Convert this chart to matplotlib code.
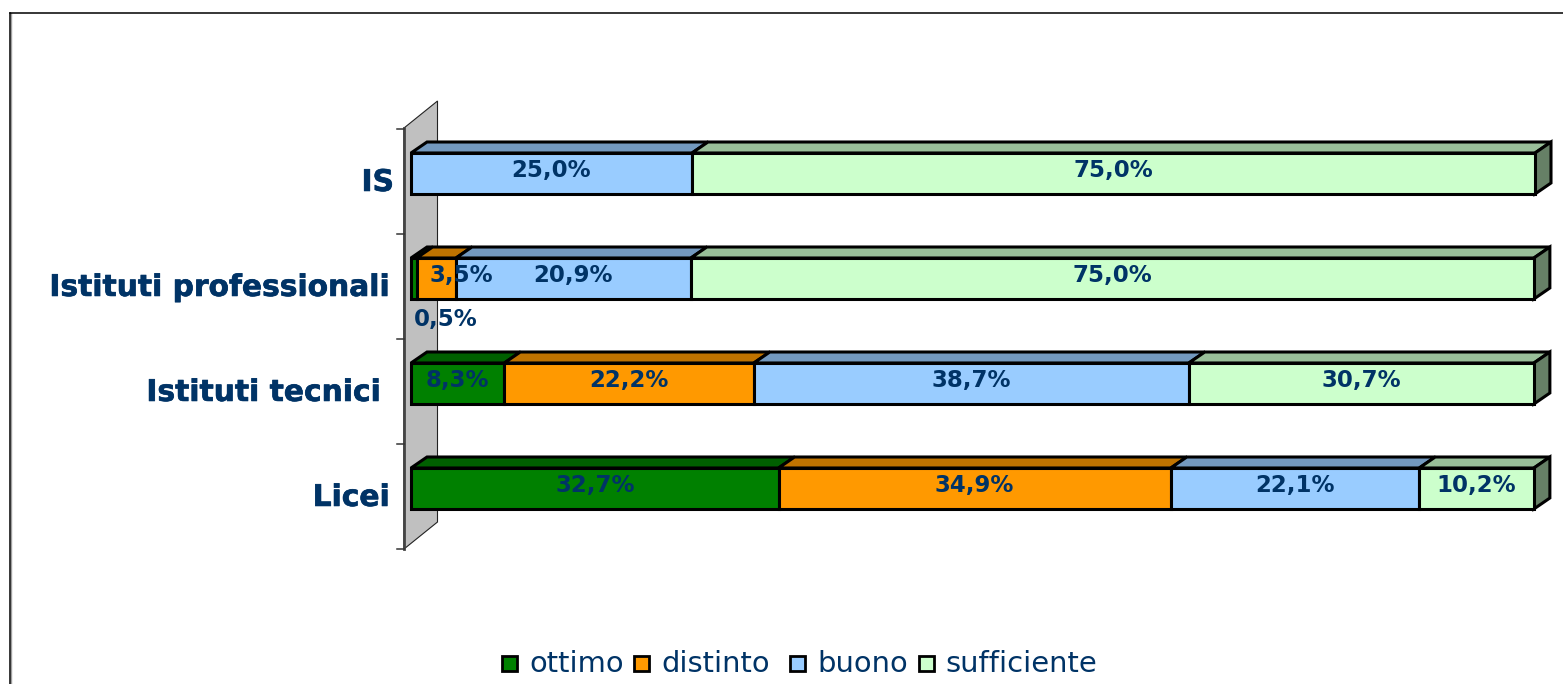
import matplotlib
matplotlib.use('Agg')
import matplotlib.pyplot as plt
import matplotlib.patheffects as pe
from matplotlib.lines import Line2D
from matplotlib.patches import Polygon, Rectangle

W, H = 1563, 684
plt.rcParams['font.family'] = ['DejaVu Sans']

categorie = ['Licei', 'Istituti tecnici', 'Istituti professionali', 'IS']
serie = ['ottimo', 'distinto', 'buono', 'sufficiente']
ottimo = [32.7, 8.3, 0.5, 0.0]
distinto = [34.9, 22.2, 3.5, 0.0]
buono = [22.1, 38.7, 20.9, 25.0]
sufficiente = [10.2, 30.7, 75.0, 75.0]
valori = [ottimo, distinto, buono, sufficiente]

colori = ['#008000', '#FF9900', '#99CCFF', '#CCFFCC']
colori_top = ['#006000', '#BF7300', '#7399BF', '#99BF99']
colori_lato = ['#004000', '#804D00', '#4D6680', '#668066']
blu = '#003366'

# scala: 0-100% -> 411-1535 px, una categoria = 105 px
PX_X = 11.24
PX_Y = 105.0
X0, Y0 = 411.0, 488.5
DX = 16 / PX_X
DY = 11 / PX_Y
ALT = 20.5 / PX_Y


def px_x(px):
    return (px - X0) / PX_X


def px_y(py):
    return (Y0 - py) / PX_Y


fig = plt.figure(figsize=(W / 100, H / 100), dpi=100)
ax = fig.add_axes([0, 0, 1, 1])
ax.set_xlim(px_x(0), px_x(W))
ax.set_ylim(px_y(H), px_y(0))
ax.axis('off')

# cornice
ax.add_line(Line2D([px_x(11.5), px_x(11.5)], [px_y(H), px_y(13)], color='#a0a0a0', lw=1, zorder=1))
ax.add_line(Line2D([px_x(10.5), px_x(10.5)], [px_y(H), px_y(12.5)], color='black', lw=1.1, zorder=1))
ax.add_line(Line2D([px_x(10), px_x(W)], [px_y(12.5), px_y(12.5)], color='black', lw=1.1, zorder=1))

# parete di fondo e tacche
parete = [(404, 128), (437.5, 101), (437.5, 522), (404, 549)]
ax.add_patch(Polygon([(px_x(a), px_y(b)) for a, b in parete], closed=True,
                     facecolor='#C0C0C0', edgecolor='#222222', lw=0.8, zorder=2))
ax.add_line(Line2D([px_x(404), px_x(404)], [px_y(128), px_y(549)], color='#444444', lw=2, zorder=3))
for i in range(5):
    yt = px_y(549 - i * PX_Y)
    ax.add_line(Line2D([px_x(397), px_x(404)], [yt, yt], color='#333333', lw=1.1, zorder=3))

for c in range(len(categorie)):
    base = 0.0
    ultimo = max(s for s in range(4) if valori[s][c] > 0)
    for s in range(4):
        v = valori[s][c]
        if v <= 0:
            continue
        y0, y1 = c - ALT, c + ALT
        top = [(base, y1), (base + v, y1), (base + v + DX, y1 + DY), (base + DX, y1 + DY)]
        ax.add_patch(Polygon(top, closed=True, facecolor=colori_top[s], edgecolor='black',
                             lw=2.2, joinstyle='miter', zorder=4))
        if s == ultimo:
            lato = [(base + v, y0), (base + v + DX, y0 + DY), (base + v + DX, y1 + DY), (base + v, y1)]
            ax.add_patch(Polygon(lato, closed=True, facecolor=colori_lato[s], edgecolor='black',
                                 lw=2.2, joinstyle='miter', zorder=4))
        ax.barh(c, v, left=base, height=2 * ALT, color=colori[s], edgecolor='black', lw=2.2, zorder=5)
        base += v

# etichette dei valori
spost = {(2, 0): (2.85, -0.42), (2, 1): (2.2, 0.0)}
for c in range(len(categorie)):
    base = 0.0
    for s in range(4):
        v = valori[s][c]
        if v > 0:
            ox, oy = spost.get((c, s), (0, 0))
            ax.text(base + v / 2 + ox, c + 0.03 + oy, f'{v:.1f}%'.replace('.', ','), ha='center', va='center',
                    fontsize=16.5, fontweight='bold', color=blu, zorder=6)
        base += v

# etichette delle categorie
fine_cat = [390, 381, 390, 394]
for c, nome in enumerate(categorie):
    ax.text(px_x(fine_cat[c]), c - 0.085, nome, ha='right', va='center', fontsize=21.4, fontweight='bold',
            color=blu, zorder=6, path_effects=[pe.withStroke(linewidth=0.5, foreground=blu)])

# legenda
x_quad = [502, 634, 790, 919]
x_testo = [529, 661, 817, 945]
for s in range(4):
    ax.add_patch(Rectangle((px_x(x_quad[s]), px_y(671)), 15 / PX_X, 15 / PX_Y, facecolor=colori[s],
                           edgecolor='black', lw=2, zorder=5))
    ax.text(px_x(x_testo[s]), px_y(664), serie[s], ha='left', va='center', fontsize=20.9, color=blu, zorder=6)

fig.savefig('out.png', dpi=100)
